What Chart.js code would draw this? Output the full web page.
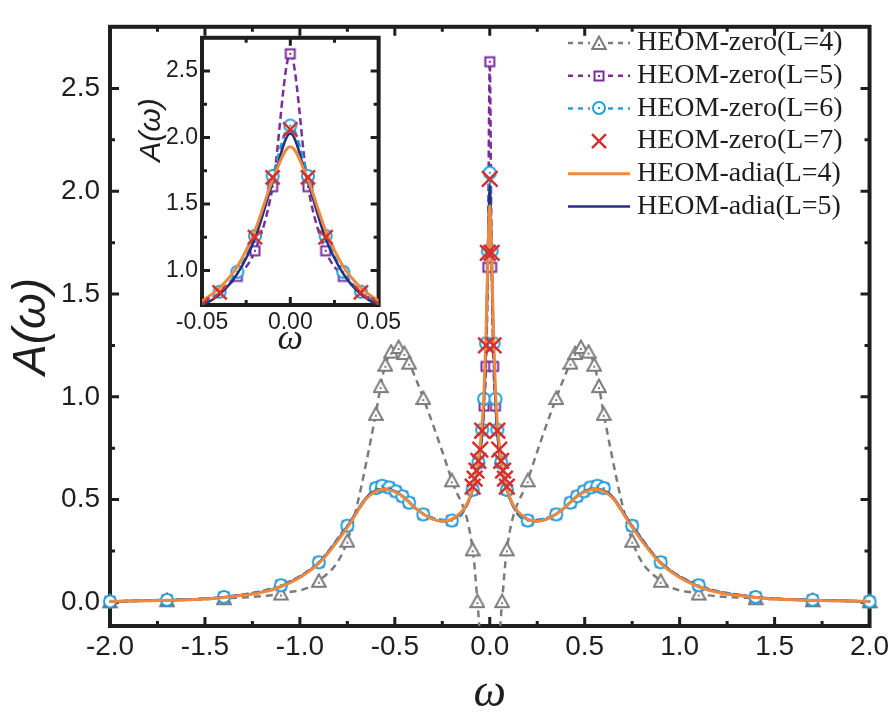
<!DOCTYPE html>
<html>
<head>
<meta charset="utf-8">
<script src="https://cdn.jsdelivr.net/npm/chart.js@4.4.1/dist/chart.umd.min.js"></script>
<style>
  html, body { margin: 0; padding: 0; background: #fff; }
  #wrap { position: relative; width: 893px; height: 713px; }
  #main { position: absolute; left: 0; top: 0; }
  #inset { position: absolute; left: 130px; top: 20px; }
</style>
</head>
<body>
<div id="wrap">
  <canvas id="main" width="893" height="713"></canvas>
  <canvas id="inset" width="275" height="350"></canvas>
</div>
<script>
// spectral function A(w)

// HEOM-zero(L=4)
const wZero4 = [-2.0, -1.7, -1.4, -1.1, -0.9, -0.75, -0.6, -0.575, -0.55, -0.52, -0.48, -0.45, -0.425, -0.35, -0.2, -0.09, -0.065, 0.0,
                0.065, 0.09, 0.2, 0.35, 0.425, 0.45, 0.48, 0.52, 0.55, 0.575, 0.6, 0.75, 0.9, 1.1, 1.4, 1.7, 2.0];
const aZero4 = [0.005, 0.01, 0.02, 0.043, 0.105, 0.30, 0.917, 1.052, 1.156, 1.22, 1.242, 1.213, 1.166, 0.994, 0.594, 0.258, 0.006, -0.78,
                0.006, 0.258, 0.594, 0.994, 1.166, 1.213, 1.242, 1.22, 1.156, 1.052, 0.917, 0.30, 0.105, 0.043, 0.02, 0.01, 0.005];

// HEOM-zero(L=5)
const wZero5 = [-2.0, -1.7, -1.4, -1.1, -0.9, -0.75, -0.6, -0.567, -0.53, -0.495, -0.46, -0.425, -0.35, -0.2, -0.09, -0.06, -0.03, -0.02, -0.01, 0.0,
                0.01, 0.02, 0.03, 0.06, 0.09, 0.2, 0.35, 0.425, 0.46, 0.495, 0.53, 0.567, 0.6, 0.75, 0.9, 1.1, 1.4, 1.7, 2.0];
const aZero5 = [0.004, 0.012, 0.026, 0.083, 0.195, 0.373, 0.556, 0.567, 0.559, 0.54, 0.516, 0.485, 0.428, 0.398, 0.547, 0.68, 0.955, 1.148, 1.63, 2.63,
                1.63, 1.148, 0.955, 0.68, 0.547, 0.398, 0.428, 0.485, 0.516, 0.54, 0.559, 0.567, 0.556, 0.373, 0.195, 0.083, 0.026, 0.012, 0.004];

// HEOM-zero(L=6)
const wZero6 = [-2.0, -1.7, -1.4, -1.1, -0.9, -0.75, -0.6, -0.567, -0.53, -0.495, -0.46, -0.425, -0.35, -0.2, -0.09, -0.06, -0.04, -0.03, -0.02, -0.01, 0.0,
                0.01, 0.02, 0.03, 0.04, 0.06, 0.09, 0.2, 0.35, 0.425, 0.46, 0.495, 0.53, 0.567, 0.6, 0.75, 0.9, 1.1, 1.4, 1.7, 2.0];
const aZero6 = [0.004, 0.012, 0.026, 0.083, 0.195, 0.373, 0.556, 0.567, 0.559, 0.54, 0.516, 0.485, 0.428, 0.398, 0.547, 0.68, 0.84, 0.99, 1.26, 1.71, 2.09,
                1.71, 1.26, 0.99, 0.84, 0.68, 0.547, 0.398, 0.428, 0.485, 0.516, 0.54, 0.559, 0.567, 0.556, 0.373, 0.195, 0.083, 0.026, 0.012, 0.004];

// HEOM-zero(L=7), only near the central peak
const wZero7 = [-0.09, -0.08, -0.07, -0.06, -0.05, -0.04, -0.02, -0.01, 0.0, 0.01, 0.02, 0.04, 0.05, 0.06, 0.07, 0.08, 0.09];
const aZero7 = [0.563, 0.602, 0.641, 0.688, 0.743, 0.835, 1.25, 1.70, 2.06, 1.70, 1.25, 0.835, 0.743, 0.688, 0.641, 0.602, 0.563];

// HEOM-adia(L=4) and HEOM-adia(L=5), solid curves
const wAdia = [-2.0, -1.7, -1.4, -1.1, -0.9, -0.75, -0.65, -0.6, -0.56, -0.52, -0.48, -0.44, -0.4, -0.35, -0.3, -0.25, -0.2, -0.15, -0.12, -0.1,
               -0.08, -0.06, -0.05, -0.04, -0.03, -0.02, -0.01, 0.0, 0.01, 0.02, 0.03, 0.04, 0.05, 0.06, 0.08, 0.1, 0.12, 0.15, 0.2, 0.25,
               0.3, 0.35, 0.4, 0.44, 0.48, 0.52, 0.56, 0.6, 0.65, 0.75, 0.9, 1.1, 1.4, 1.7, 2.0];
const aAdia4 = [0.005, 0.01, 0.024, 0.076, 0.19, 0.365, 0.505, 0.54, 0.55, 0.545, 0.528, 0.5, 0.465, 0.43, 0.405, 0.395, 0.405, 0.44, 0.48, 0.525,
                0.585, 0.685, 0.77, 0.87, 1.03, 1.3, 1.68, 1.93, 1.68, 1.3, 1.03, 0.87, 0.77, 0.685, 0.585, 0.525, 0.48, 0.44, 0.405, 0.395,
                0.405, 0.43, 0.465, 0.5, 0.528, 0.545, 0.55, 0.54, 0.505, 0.365, 0.19, 0.076, 0.024, 0.01, 0.005];
const aAdia5 = [0.005, 0.01, 0.025, 0.078, 0.193, 0.37, 0.51, 0.545, 0.553, 0.548, 0.53, 0.502, 0.466, 0.43, 0.405, 0.394, 0.403, 0.437, 0.476, 0.52,
                0.578, 0.67, 0.735, 0.82, 0.975, 1.24, 1.66, 2.03, 1.66, 1.24, 0.975, 0.82, 0.735, 0.67, 0.578, 0.52, 0.476, 0.437, 0.403, 0.394,
                0.405, 0.43, 0.466, 0.502, 0.53, 0.548, 0.553, 0.545, 0.51, 0.37, 0.193, 0.078, 0.025, 0.01, 0.005];

// axis ticks
const mainXMajor = [-2, -1.5, -1, -0.5, 0, 0.5, 1, 1.5, 2];
const mainXMinor = [-1.75, -1.25, -0.75, -0.25, 0.25, 0.75, 1.25, 1.75];
const mainYMajor = [0, 0.5, 1, 1.5, 2, 2.5];
const mainYMinor = [0.25, 0.75, 1.25, 1.75, 2.25];
const insetXMajor = [-0.05, 0, 0.05];
const insetXMinor = [-0.025, 0.025];
const insetYMajor = [1, 1.5, 2, 2.5];
const insetYMinor = [1.25, 1.75, 2.25];

const GRAY = '#7c7c7c', PURPLE = '#7a2d9c', CYAN = '#1fa2d9', RED = '#d23130', ORANGE = '#ee8a3f', NAVY = '#24317f';
const INK = '#1e1e1e';

const pts = (xs, ys) => xs.map((x, i) => ({ x: x, y: ys[i] }));

// hollow markers with a small dot in the middle
function marker(kind, color) {
  const c = document.createElement('canvas');
  c.width = 16; c.height = 16;
  const g = c.getContext('2d');
  g.lineWidth = 2;
  g.strokeStyle = color;
  g.fillStyle = '#fff';
  g.beginPath();
  if (kind === 'tri') {
    g.moveTo(8, 1.6); g.lineTo(14.8, 14); g.lineTo(1.2, 14); g.closePath();
  } else if (kind === 'sq') {
    g.rect(3.5, 3.5, 9, 9);
  } else {
    g.arc(8, 8, 6, 0, Math.PI * 2);
  }
  g.fill(); g.stroke();
  g.fillStyle = color;
  if (kind === 'tri') g.fillRect(7, 9, 2, 2); else g.fillRect(7, 7, 2, 2);
  return c;
}
const triImg = marker('tri', GRAY);
const sqImg = marker('sq', PURPLE);
const circImg = marker('circ', CYAN);

// frame with inward ticks on all four sides
const framePlugin = {
  id: 'frame',
  beforeDraw(chart, args, opts) {
    if (!opts.fill) return;
    const a = chart.chartArea, ctx = chart.ctx;
    ctx.save();
    ctx.fillStyle = '#fff';
    ctx.fillRect(a.left, a.top, a.right - a.left, a.bottom - a.top);
    ctx.restore();
  },
  beforeDatasetsDraw(chart, args, opts) {
    const ctx = chart.ctx, a = chart.chartArea, sx = chart.scales.x, sy = chart.scales.y;
    ctx.save();
    ctx.strokeStyle = INK;
    const tick = (vals, len) => {
      vals.forEach(v => {
        const px = sx.getPixelForValue(v);
        ctx.beginPath();
        ctx.moveTo(px, a.bottom); ctx.lineTo(px, a.bottom - len);
        ctx.moveTo(px, a.top); ctx.lineTo(px, a.top + len);
        ctx.stroke();
      });
    };
    const ytick = (vals, len) => {
      vals.forEach(v => {
        const py = sy.getPixelForValue(v);
        ctx.beginPath();
        ctx.moveTo(a.left, py); ctx.lineTo(a.left + len, py);
        ctx.moveTo(a.right, py); ctx.lineTo(a.right - len, py);
        ctx.stroke();
      });
    };
    ctx.lineWidth = opts.tickWidth;
    tick(opts.xMajor, opts.major);
    tick(opts.xMinor, opts.minor);
    ytick(opts.yMajor, opts.major);
    ytick(opts.yMinor, opts.minor);
    ctx.lineWidth = opts.width;
    ctx.strokeRect(a.left, a.top, a.right - a.left, a.bottom - a.top);
    ctx.restore();
  }
};

// legend in the upper right corner of the plot
const legendPlugin = {
  id: 'cornerLegend',
  afterDraw(chart, args, opts) {
    const ctx = chart.ctx;
    chart.data.datasets.forEach((ds, i) => {
      const y = opts.top + i * opts.gap;
      const mid = opts.left + opts.lineLen / 2;
      ctx.save();
      if (ds.showLine !== false) {
        ctx.strokeStyle = ds.borderColor;
        ctx.lineWidth = ds.borderWidth;
        ctx.setLineDash(ds.borderDash ? [5, 5] : []);
        ctx.beginPath();
        if (ds.pointStyle instanceof HTMLCanvasElement) {
          ctx.moveTo(opts.left, y); ctx.lineTo(mid - 9, y);
          ctx.moveTo(mid + 9, y); ctx.lineTo(opts.left + opts.lineLen, y);
        } else {
          ctx.moveTo(opts.left, y); ctx.lineTo(opts.left + opts.lineLen, y);
        }
        ctx.stroke();
      }
      ctx.setLineDash([]);
      if (ds.pointStyle instanceof HTMLCanvasElement) {
        ctx.drawImage(ds.pointStyle, Math.round(mid - 8), Math.round(y - 8));
      } else if (ds.pointStyle === 'crossRot') {
        const r = 7;
        ctx.strokeStyle = ds.pointBorderColor;
        ctx.lineWidth = ds.pointBorderWidth;
        ctx.beginPath();
        ctx.moveTo(mid - r, y - r); ctx.lineTo(mid + r, y + r);
        ctx.moveTo(mid + r, y - r); ctx.lineTo(mid - r, y + r);
        ctx.stroke();
      }
      ctx.fillStyle = INK;
      ctx.font = opts.font;
      ctx.textBaseline = 'middle';
      ctx.textAlign = 'left';
      ctx.fillText(ds.label, opts.textX, y);
      ctx.restore();
    });
  }
};

// rotated y title of the inset, sitting a bit above the middle of its axis
const insetTitlePlugin = {
  id: 'insetTitle',
  afterDraw(chart, args, opts) {
    const ctx = chart.ctx;
    ctx.save();
    ctx.translate(opts.x, opts.y);
    ctx.rotate(-Math.PI / 2);
    ctx.fillStyle = INK;
    ctx.font = opts.font;
    ctx.textAlign = 'center';
    ctx.textBaseline = 'middle';
    ctx.fillText(opts.text, 0, 0);
    ctx.restore();
  }
};

function makeDatasets(ptR) {
  return [
    { label: 'HEOM-zero(L=4)', data: pts(wZero4, aZero4), borderColor: GRAY, borderWidth: 2.5, borderDash: [7, 5],
      pointStyle: triImg, pointRadius: 6, cubicInterpolationMode: 'monotone', order: 6 },
    { label: 'HEOM-zero(L=5)', data: pts(wZero5, aZero5), borderColor: PURPLE, borderWidth: 2.5, borderDash: [7, 4],
      pointStyle: sqImg, pointRadius: 6, cubicInterpolationMode: 'monotone', order: 5 },
    { label: 'HEOM-zero(L=6)', data: pts(wZero6, aZero6), borderColor: CYAN, borderWidth: 2.5, borderDash: [7, 4],
      pointStyle: circImg, pointRadius: 6, cubicInterpolationMode: 'monotone', order: 4 },
    { label: 'HEOM-zero(L=7)', data: pts(wZero7, aZero7), showLine: false, borderColor: RED,
      pointStyle: 'crossRot', pointRadius: ptR, pointBorderColor: RED, pointBackgroundColor: 'rgba(0,0,0,0)',
      pointBorderWidth: 2.5, order: 0 },
    { label: 'HEOM-adia(L=4)', data: pts(wAdia, aAdia4), borderColor: ORANGE, borderWidth: 3, pointRadius: 0,
      cubicInterpolationMode: 'monotone', order: 1 },
    { label: 'HEOM-adia(L=5)', data: pts(wAdia, aAdia5), borderColor: NAVY, borderWidth: 2.5, pointRadius: 0,
      cubicInterpolationMode: 'monotone', order: 2 }
  ];
}

const tickFont = size => ({ family: '"Liberation Sans", Arial, sans-serif', size: size });

// main panel
const mainSets = makeDatasets(11);
mainSets.forEach(d => { d.clip = { left: 12, right: 12, top: 0, bottom: 0 }; });

new Chart(document.getElementById('main'), {
  type: 'line',
  data: { datasets: mainSets },
  options: {
    responsive: false,
    animation: false,
    events: [],
    layout: { padding: { left: 0, right: 21, top: 5, bottom: 0 } },
    plugins: {
      legend: { display: false },
      tooltip: { enabled: false },
      frame: { width: 4, tickWidth: 3, major: 9, minor: 5,
               xMajor: mainXMajor, xMinor: mainXMinor, yMajor: mainYMajor, yMinor: mainYMinor },
      cornerLegend: { left: 568, top: 43, gap: 32.7, lineLen: 62, textX: 637, font: '28px "Liberation Serif", serif' }
    },
    scales: {
      x: {
        type: 'linear', min: -2, max: 2,
        grid: { display: false, drawTicks: false }, border: { display: false },
        afterBuildTicks: s => { s.ticks = mainXMajor.map(v => ({ value: v })); },
        afterFit: s => { s.height = 87; },
        ticks: { padding: 4, autoSkip: false, maxRotation: 0, color: INK, font: tickFont(28),
                 callback: v => v.toFixed(1) },
        title: { display: true, text: 'ω', color: INK,
                 font: { family: '"Liberation Serif", serif', style: 'italic', size: 46, lineHeight: 1 },
                 padding: { top: 0, bottom: -4 } }
      },
      y: {
        type: 'linear', min: -0.115, max: 2.8,
        grid: { display: false, drawTicks: false }, border: { display: false },
        afterBuildTicks: s => { s.ticks = mainYMajor.map(v => ({ value: v })); },
        afterFit: s => { s.width = 110; },
        ticks: { padding: 10, autoSkip: false, color: INK, font: tickFont(28),
                 callback: v => v.toFixed(1) },
        title: { display: true, text: 'A(ω)', color: INK,
                 font: { family: '"Liberation Sans", Arial, sans-serif', style: 'italic', size: 46, lineHeight: 1 },
                 padding: { top: 9, bottom: 0 } }
      }
    }
  },
  plugins: [framePlugin, legendPlugin]
});

// inset: zoom on the central peak
const insetSets = makeDatasets(10).slice(1);

new Chart(document.getElementById('inset'), {
  type: 'line',
  data: { datasets: insetSets },
  options: {
    responsive: false,
    animation: false,
    events: [],
    layout: { padding: { left: 0, right: 25, top: 13, bottom: 0 } },
    plugins: {
      legend: { display: false },
      tooltip: { enabled: false },
      frame: { fill: true, width: 4, tickWidth: 3, major: 8, minor: 5,
               xMajor: insetXMajor, xMinor: insetXMinor, yMajor: insetYMajor, yMinor: insetYMinor },
      insetTitle: { text: 'A(ω)', x: 22, y: 110, font: 'italic 30px "Liberation Sans", Arial, sans-serif' }
    },
    scales: {
      x: {
        type: 'linear', min: -0.05, max: 0.05,
        grid: { display: false, drawTicks: false }, border: { display: false },
        afterBuildTicks: s => { s.ticks = insetXMajor.map(v => ({ value: v })); },
        afterFit: s => { s.height = 65; },
        ticks: { padding: 4, autoSkip: false, maxRotation: 0, color: INK, font: tickFont(23),
                 callback: v => v.toFixed(2) },
        title: { display: true, text: 'ω', color: INK,
                 font: { family: '"Liberation Serif", serif', style: 'italic', size: 36, lineHeight: 1 },
                 padding: { top: 0, bottom: 12 } }
      },
      y: {
        type: 'linear', min: 0.74, max: 2.75,
        grid: { display: false, drawTicks: false }, border: { display: false },
        afterBuildTicks: s => { s.ticks = insetYMajor.map(v => ({ value: v })); },
        afterFit: s => { s.width = 72; },
        ticks: { padding: 4, autoSkip: false, color: INK, font: tickFont(23),
                 callback: v => v.toFixed(1) }
      }
    }
  },
  plugins: [framePlugin, insetTitlePlugin]
});
</script>
</body>
</html>
